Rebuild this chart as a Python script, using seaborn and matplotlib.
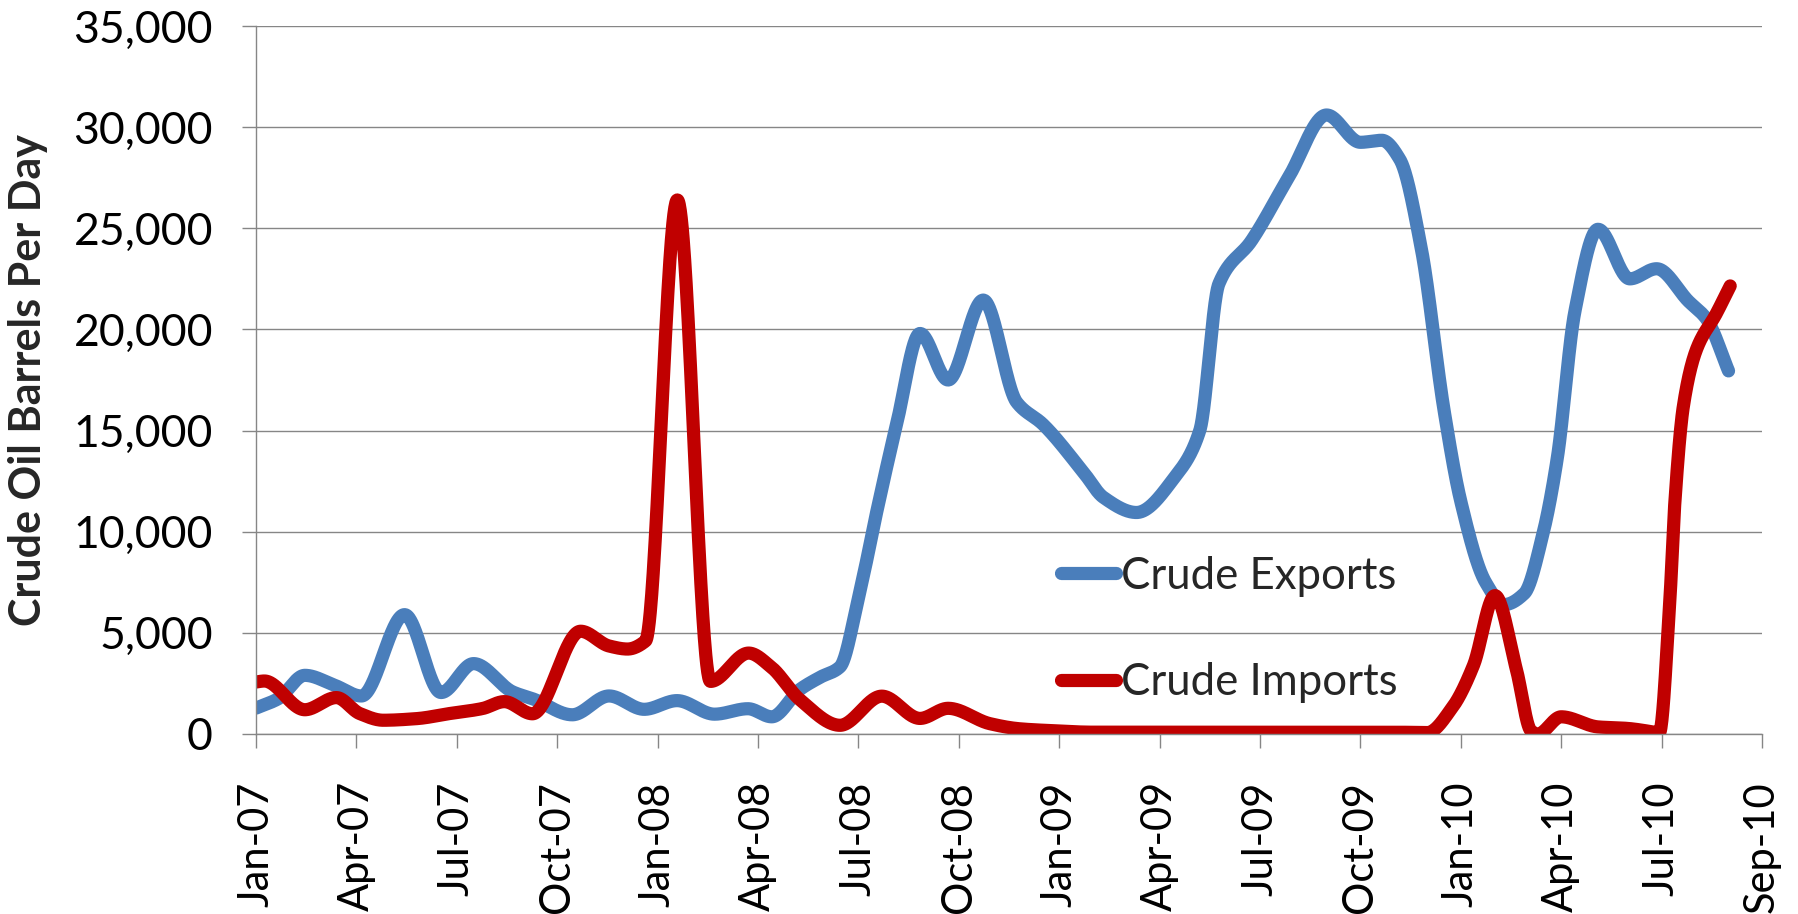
import matplotlib
matplotlib.use("Agg")
import matplotlib.pyplot as plt
import numpy as np
import pandas as pd
import seaborn as sns
from matplotlib.ticker import FuncFormatter

# month position (months since Jan-2007) and barrels per day
export_month = [0.0, 0.67, 1.46, 2.36, 3.15, 4.44, 5.53, 6.5, 7.67, 8.3,
                9.45, 10.55, 11.6, 12.58, 13.7, 14.7, 15.41, 16.25, 16.85, 17.45,
                18.0, 18.55, 19.14, 19.84, 20.68, 21.73, 22.73, 23.52, 24.72, 25.32,
                26.31, 27.5, 28.2, 28.77, 29.75, 30.87, 31.99, 33.0, 33.64, 34.18,
                34.82, 35.5, 36.0, 36.74, 37.3, 37.9, 38.45, 38.88, 39.41, 40.1,
                41.05, 41.85, 42.8, 43.35, 44.0]
export_bpd = [1280, 1750, 2900, 2400, 1880, 5900, 2050, 3480, 2080, 1720,
              950, 1880, 1220, 1650, 980, 1250, 850, 2200, 2800, 3320,
              6700, 11000, 15300, 19800, 17500, 21450, 16400, 15300, 12950, 11700,
              10950, 12800, 15000, 22250, 24400, 27570, 30600, 29250, 29350, 28400,
              24000, 16000, 11500, 7500, 6400, 6950, 9860, 13600, 20900, 24950,
              22500, 23000, 21400, 20500, 17950]

import_month = [0.0, 0.25, 1.46, 2.4, 3.1, 3.8, 4.8, 5.78, 6.77, 7.42,
                8.26, 9.7, 10.55, 11.1, 11.64, 12.59, 13.58, 14.72, 15.4, 16.25,
                17.45, 18.7, 19.84, 20.68, 21.93, 22.8, 23.72, 25.0, 30.0, 34.0,
                35.0, 35.75, 36.38, 37.02, 37.66, 38.1, 38.3, 39.0, 40.1, 40.95,
                41.75, 41.93, 42.24, 42.39, 42.65, 43.04, 43.64, 44.05]
import_bpd = [2570, 2620, 1200, 1800, 1010, 680, 760, 1010, 1260, 1600,
              1000, 5080, 4350, 4200, 4600, 26400, 2600, 4000, 3300, 1700,
              430, 1870, 770, 1270, 510, 260, 170, 90, 90, 90,
              70, 1320, 3400, 6840, 3200, 150, 0, 850, 350, 280,
              100, 50, 6400, 11300, 16200, 19000, 20800, 22150]

tick_labels = ["Jan-07", "Apr-07", "Jul-07", "Oct-07", "Jan-08", "Apr-08",
               "Jul-08", "Oct-08", "Jan-09", "Apr-09", "Jul-09", "Oct-09",
               "Jan-10", "Apr-10", "Jul-10", "Sep-10"]


def smoothed(x, y, num=3000):
    """Monotone cubic curve through the points (like Excel's smoothed line)."""
    x = np.asarray(x, float)
    y = np.asarray(y, float)
    h = np.diff(x)
    d = np.diff(y) / h
    m = np.zeros_like(y)
    m[0], m[-1] = d[0], d[-1]
    for k in range(1, len(x) - 1):
        if d[k - 1] * d[k] > 0:
            w1 = 2 * h[k] + h[k - 1]
            w2 = h[k] + 2 * h[k - 1]
            m[k] = (w1 + w2) / (w1 / d[k - 1] + w2 / d[k])
    xs = np.linspace(x[0], x[-1], num)
    k = np.clip(np.searchsorted(x, xs, side="right") - 1, 0, len(x) - 2)
    t = (xs - x[k]) / h[k]
    ys = ((2 * t**3 - 3 * t**2 + 1) * y[k]
          + (t**3 - 2 * t**2 + t) * h[k] * m[k]
          + (-2 * t**3 + 3 * t**2) * y[k + 1]
          + (t**3 - t**2) * h[k] * m[k + 1])
    return pd.DataFrame({"month": xs, "bpd": ys})


sns.set_theme(style="white")
plt.rcParams["font.family"] = ["Lato", "DejaVu Sans"]

GRAY = "#868686"
W, H = 1798, 914
fig = plt.figure(figsize=(W / 100, H / 100), dpi=100)
ax = fig.add_axes([256 / W, 1 - 734 / H, (1762 - 256) / W, (734 - 26) / H])

sns.lineplot(data=smoothed(export_month, export_bpd), x="month", y="bpd",
             sort=False, estimator=None, color="#4A7EBB", linewidth=9.5,
             label="Crude Exports", ax=ax)
sns.lineplot(data=smoothed(import_month, import_bpd), x="month", y="bpd",
             sort=False, estimator=None, color="#C00000", linewidth=9.5,
             label="Crude Imports", ax=ax)
for line in ax.lines:
    line.set_solid_capstyle("round")
    line.set_solid_joinstyle("round")

ax.set_xlim(0, 45)
ax.set_ylim(0, 35000)
ax.set_xticks(range(0, 46, 3))
ax.set_xticklabels(tick_labels, rotation=90)
ax.set_yticks(range(0, 35001, 5000))
ax.yaxis.set_major_formatter(FuncFormatter(lambda v, _: f"{int(v):,}"))

ax.yaxis.grid(True, color=GRAY, linewidth=1.0)
ax.xaxis.grid(False)
for side in ("top", "right"):
    ax.spines[side].set_visible(False)
for side in ("left", "bottom"):
    ax.spines[side].set_color(GRAY)
    ax.spines[side].set_linewidth(1.0)

ax.tick_params(axis="both", direction="out", length=10, width=1.0,
               color=GRAY, labelcolor="black")
ax.tick_params(axis="y", left=True, pad=21, labelsize=32)
ax.tick_params(axis="x", bottom=True, pad=24, labelsize=30)

ax.set_xlabel("")
ax.set_ylabel("Crude Oil Barrels Per Day", fontsize=31, fontweight="bold")
ax.yaxis.set_label_coords(-0.138, 0.5)

ax.legend(loc="upper left", bbox_to_anchor=(0.5345, 0.252), frameon=False,
          fontsize=31.5, handlelength=1.26, handletextpad=0.12,
          labelspacing=1.5, borderpad=0, borderaxespad=0)

fig.savefig("out.png", dpi=100)
